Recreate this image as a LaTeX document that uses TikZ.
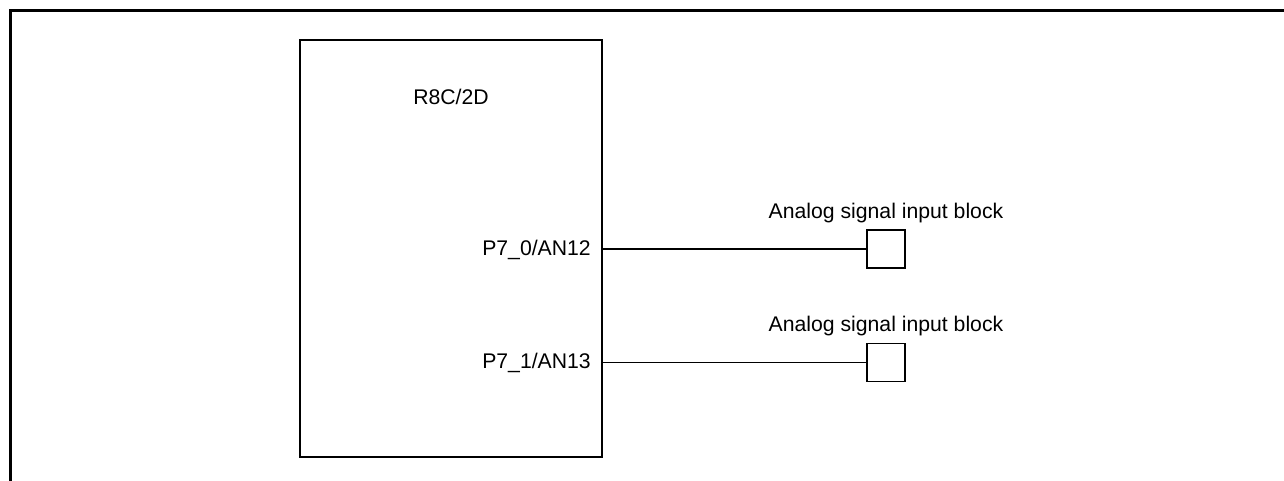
\documentclass[tikz,border=0pt]{standalone}
\usepackage{fontspec}
\setmainfont{Liberation Sans}
\usetikzlibrary{positioning}

\begin{document}
\begin{tikzpicture}[
  x=0.75pt, y=-0.75pt,
  frame/.style={line width=2.25pt},
  chip/.style={draw, line width=1.2pt, minimum width=226.5pt, minimum height=312.75pt, inner sep=0pt},
  blk/.style={draw, line width=0.9pt, minimum width=28.5pt, minimum height=28.5pt, inner sep=0pt},
  lbl/.style={font=\fontsize{15.9}{19}\selectfont, inner sep=0pt},
  wire/.style={line width=0.9pt},
]
  \useasboundingbox (0,0) rectangle (1284,481);

  % Frame
  \draw[frame] (10.5,481) -- (10.5,10.5) -- (1284,10.5);

  % MCU
  \node[chip] (mcu) at (451,248.5) {};
  \node[lbl, anchor=base] (mcuname) at (451,105) {R8C/2D};

  % Pins
  \node[lbl, anchor=base east] (pin0) at (591,255.5) {P7\_0/AN12};
  \node[lbl, anchor=base east] (pin1) at (591,368.5) {P7\_1/AN13};

  % Analog blocks
  \node[blk] (blk0) at (886,249) {};
  \node[blk] (blk1) at (886,362.5) {};
  \node[lbl, anchor=base] (lab0) at (886,218) {Analog signal input block};
  \node[lbl, anchor=base] (lab1) at (886,331.5) {Analog signal input block};

  % Wires
  \draw[wire] (mcu.east |- blk0) -- (blk0.west);
  \draw[wire] (mcu.east |- blk1) -- (blk1.west);
\end{tikzpicture}
\end{document}
